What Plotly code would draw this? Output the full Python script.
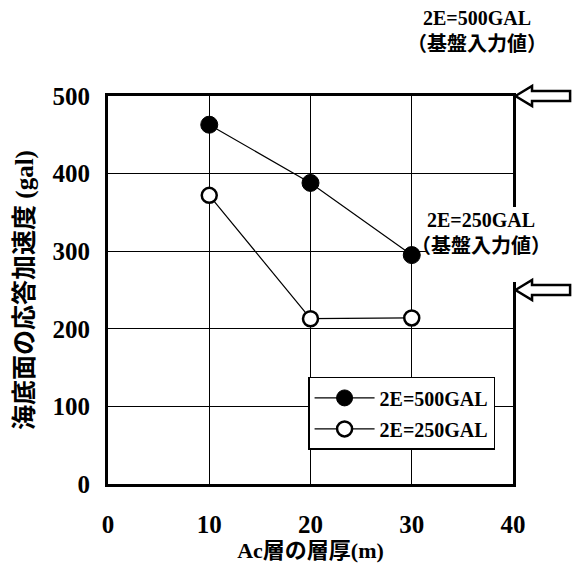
import plotly.graph_objects as go

# Ac layer thickness (m) and seabed response acceleration (gal)
thickness = [10, 20, 30]
acc_500 = [463, 388, 295]
acc_250 = [372, 213, 214]
series_names = ["2E=500GAL", "2E=250GAL"]
input_levels = [500, 250]          # bedrock input values (gal)
input_label = "（基盤入力値）"
x_ticks = [0, 10, 20, 30, 40]
y_ticks = [0, 100, 200, 300, 400, 500]
y_range = [0, 500]

FONT = "Liberation Serif, Noto Sans CJK JP, serif"


def yfrac(v):
    """data value -> paper fraction of the plot height"""
    return (v - y_range[0]) / (y_range[1] - y_range[0])


fig = go.Figure()
fig.add_trace(go.Scatter(
    x=thickness, y=acc_500, name=series_names[0], mode="lines+markers",
    legendgroup="a",
    line=dict(color="black", width=1.2),
    marker=dict(symbol="circle", size=17, color="black",
                line=dict(color="black", width=1)),
))
fig.add_trace(go.Scatter(
    x=thickness, y=acc_250, name=series_names[1], mode="lines+markers",
    legendgroup="b",
    line=dict(color="black", width=1.2),
    marker=dict(symbol="circle", size=15, color="white",
                line=dict(color="black", width=2.5)),
))

shapes = []
# white backing behind the lower input-level label (hides grid and frame)
shapes.append(dict(type="rect", xref="paper", yref="paper", layer="above",
                   x0=0.785, x1=1.02, y0=(484 - 282) / 388, y1=(484 - 207) / 388,
                   line=dict(width=0), fillcolor="white"))
# block arrows at the bedrock input levels, just right of the frame
for lv in input_levels:
    yc = yfrac(lv)
    x0, xh, x1 = 1.006, 1.047, 1.141
    hh, hs = 10 / 388, 5 / 388
    path = (f"M {x0},{yc} L {xh},{yc + hh} L {xh},{yc + hs} L {x1},{yc + hs} "
            f"L {x1},{yc - hs} L {xh},{yc - hs} L {xh},{yc - hh} Z")
    shapes.append(dict(type="path", xref="paper", yref="paper", path=path,
                       line=dict(color="black", width=2.5), fillcolor="white"))

annotations = [
    dict(xref="paper", yref="paper", x=0.912, xanchor="center",
         y=(484 - 31) / 388, yanchor="middle",
         text=f"<b>{series_names[0]}</b><br><b>{input_label}</b>", showarrow=False,
         font=dict(family=FONT, size=20, color="black"), align="center"),
    dict(xref="paper", yref="paper", x=0.92, xanchor="center",
         y=(484 - 233) / 388, yanchor="middle",
         text=f"<b>{series_names[1]}</b><br><b>{input_label}</b>", showarrow=False,
         font=dict(family=FONT, size=20, color="black"), align="center"),
]

fig.update_layout(
    width=576, height=569,
    margin=dict(l=108, r=63, t=96, b=85),
    paper_bgcolor="white", plot_bgcolor="white",
    font=dict(family=FONT, size=21, color="black"),
    showlegend=True,
    legend=dict(x=0.494, y=0.276, xanchor="left", yanchor="top",
                bgcolor="white", bordercolor="black", borderwidth=1.5,
                font=dict(family=FONT, size=20, color="black", weight="bold"),
                itemwidth=60, tracegroupgap=2),
    shapes=shapes,
    annotations=annotations,
)
fig.update_xaxes(
    range=[0, 40], tickvals=x_ticks, ticks="", automargin=False,
    showgrid=True, gridcolor="black", gridwidth=1,
    showline=True, linecolor="black", linewidth=3, mirror=True,
    zeroline=False, ticklabelstandoff=16,
    tickfont=dict(family=FONT, size=25, weight="bold"),
    title=dict(text="Ac層の層厚(m)",
               font=dict(family=FONT, size=22, weight="bold"), standoff=0),
)
fig.update_yaxes(
    range=y_range, tickvals=y_ticks, ticks="", automargin=False,
    showgrid=True, gridcolor="black", gridwidth=1,
    showline=True, linecolor="black", linewidth=3, mirror=True,
    zeroline=False, ticklabelstandoff=10,
    tickfont=dict(family=FONT, size=25, weight="bold"),
    title=dict(text="海底面の応答加速度 (gal)",
               font=dict(family=FONT, size=25, weight="bold"), standoff=12),
)

fig.write_html("out.html")
